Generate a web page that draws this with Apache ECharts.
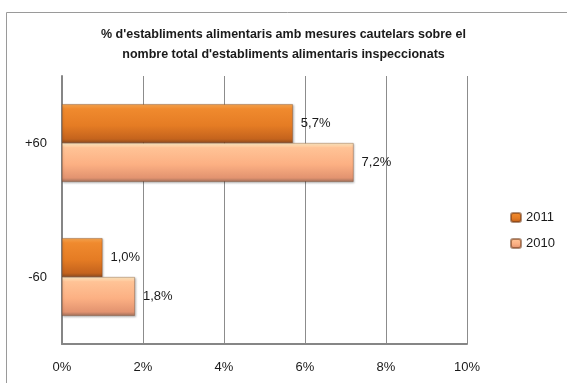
<!DOCTYPE html>
<html>
<head>
<meta charset="utf-8">
<script src="https://cdn.jsdelivr.net/npm/echarts@6/dist/echarts.min.js"></script>
<style>html,body{margin:0;padding:0;background:#fff}#c{width:567px;height:383px}</style>
</head>
<body>
<div id="c"></div>
<script>
const categories = ['-60', '+60'];
const values2011 = [1.0, 5.7];
const values2010 = [1.8, 7.2];
const xTicks = [0, 2, 4, 6, 8, 10];
const titleText = "% d'establiments alimentaris amb mesures cautelars sobre el\nnombre total d'establiments alimentaris inspeccionats";

const FONT = 'Liberation Sans';
const chart = echarts.init(document.getElementById('c'), null, {renderer: 'canvas'});
const G = echarts.graphic;
const grad2011 = new G.LinearGradient(0, 0, 0, 1, [
  {offset: 0, color: '#F9A851'},
  {offset: 0.12, color: '#F08A2E'},
  {offset: 0.55, color: '#E57C24'},
  {offset: 0.9, color: '#C4631D'},
  {offset: 1, color: '#8A4A1E'}
]);
const grad2010 = new G.LinearGradient(0, 0, 0, 1, [
  {offset: 0, color: '#FFEBC4'},
  {offset: 0.12, color: '#FFC396'},
  {offset: 0.55, color: '#FCB083'},
  {offset: 0.9, color: '#E29370'},
  {offset: 1, color: '#9E6E5A'}
]);
const fmt = p => p.value.toFixed(1).replace('.', ',') + '%';
const labelCfg = {show: true, position: 'right', distance: 8, formatter: fmt,
  fontFamily: FONT, fontSize: 13, color: '#1a1a1a'};
const itemBase = {borderColor: 'rgba(110,55,20,0.55)', borderWidth: 0.6,
  shadowColor: 'rgba(0,0,0,0.25)', shadowBlur: 2, shadowOffsetX: 1, shadowOffsetY: 1};

chart.setOption({
  animation: false,
  backgroundColor: '#fff',
  title: {
    text: titleText, left: 'center', top: 20,
    textStyle: {fontFamily: FONT, fontSize: 12.5, fontWeight: 'bold', color: '#1a1a1a', lineHeight: 20}
  },
  graphic: [{
    type: 'rect', silent: true,
    shape: {x: 6.5, y: 12.5, width: 620, height: 420},
    style: {fill: 'none', stroke: '#9a9a9a', lineWidth: 1}
  }],
  grid: {left: 62, right: 100, top: 76, bottom: 39, containLabel: false},
  legend: {
    data: ['2011', '2010'], orient: 'vertical', left: 505, top: 206,
    itemWidth: 10, itemHeight: 9, itemGap: 13,
    textStyle: {fontFamily: FONT, fontSize: 13, color: '#1a1a1a'}
  },
  xAxis: {
    type: 'value', min: xTicks[0], max: xTicks[xTicks.length - 1], interval: 2,
    axisLine: {show: true, lineStyle: {color: '#868686', width: 2}},
    axisTick: {show: false},
    splitLine: {show: true, lineStyle: {color: '#8c8c8c', width: 1}},
    axisLabel: {formatter: v => v + '%', margin: 17, fontFamily: FONT, fontSize: 13, color: '#1a1a1a'}
  },
  yAxis: {
    type: 'category', data: categories,
    axisLine: {show: true, lineStyle: {color: '#868686', width: 2}},
    axisTick: {show: false},
    axisLabel: {margin: 15, fontFamily: FONT, fontSize: 13, color: '#1a1a1a'}
  },
  series: [
    {name: '2011', type: 'bar', data: values2011, barGap: '0%', barCategoryGap: '42%',
     itemStyle: Object.assign({color: grad2011}, itemBase), label: labelCfg},
    {name: '2010', type: 'bar', data: values2010, barGap: '0%', barCategoryGap: '42%',
     itemStyle: Object.assign({color: grad2010}, itemBase), label: labelCfg}
  ]
});
</script>
</body>
</html>
